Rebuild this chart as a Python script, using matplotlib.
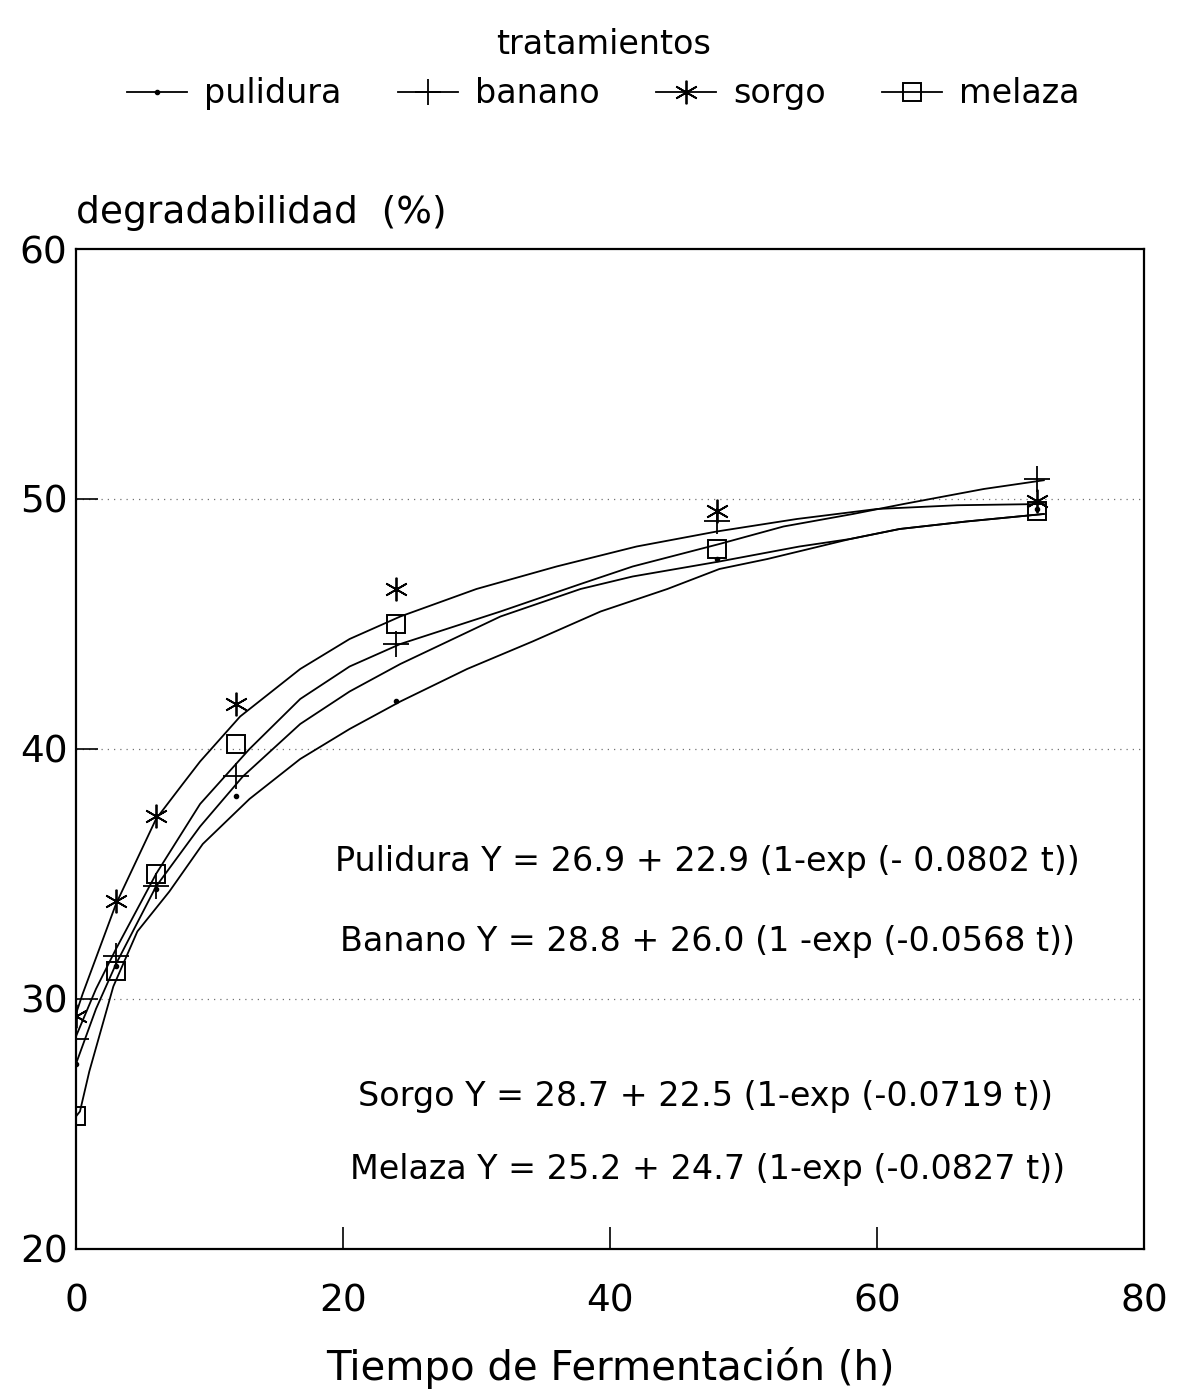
import matplotlib
matplotlib.use("Agg")
import matplotlib.pyplot as plt
from matplotlib.lines import Line2D

plt.rcParams['font.family'] = ['DejaVu Sans']

# ---------------------------------------------------------------------------
# observed degradability (%) at each fermentation time (h)
# ---------------------------------------------------------------------------
t_obs = [0, 3, 6, 12, 24, 48, 72]
pulidura = [27.4, 31.3, 34.4, 38.1, 41.9, 47.6, 49.6]
banano = [28.4, 31.7, 34.5, 38.9, 44.2, 49.1, 50.8]
sorgo = [29.3, 33.9, 37.3, 41.8, 46.4, 49.5, 49.9]
melaza = [25.3, 31.1, 35.0, 40.2, 45.0, 48.0, 49.5]

# fitted curves as drawn (top to bottom at t=24)
fit1_t = [0, 0.5, 3, 6, 8, 9.3, 12.3, 16.8, 20.5, 24.3, 30, 36, 42, 48, 54, 60, 66, 72.5]
fit1_y = [29.4, 30.2, 33.8, 37.2, 38.6, 39.5, 41.3, 43.2, 44.4, 45.3, 46.4, 47.3, 48.1, 48.7, 49.2, 49.6, 49.75, 49.8]

fit2_t = [0, 1.5, 3, 6, 9.3, 13, 16.8, 20.5, 24.3, 31.8, 37.8, 41.7, 48.2, 53, 58.2, 62, 68, 72.5]
fit2_y = [28.5, 30.4, 32.0, 35.0, 37.8, 40.0, 42.0, 43.3, 44.2, 45.5, 46.6, 47.3, 48.2, 48.9, 49.4, 49.8, 50.4, 50.75]

fit3_t = [0, 1.5, 3, 6, 9.3, 12.5, 16.8, 20.5, 24.3, 31.8, 37.8, 41.7, 48.2, 54.2, 58, 61.7, 66.7, 72.5]
fit3_y = [27.4, 29.6, 31.4, 34.5, 36.9, 38.9, 41.0, 42.3, 43.4, 45.3, 46.4, 46.9, 47.5, 48.1, 48.4, 48.8, 49.1, 49.4]

fit4_t = [0, 0.3, 1, 2.8, 4.6, 7, 9.5, 13, 16.8, 20.5, 24.3, 29.3, 34.2, 39.3, 44.3, 48.2, 51.8, 58, 61.7, 66.7, 72.5]
fit4_y = [25.3, 25.5, 27.1, 30.5, 32.7, 34.3, 36.2, 38.0, 39.6, 40.8, 41.9, 43.2, 44.3, 45.5, 46.4, 47.2, 47.6, 48.4, 48.8, 49.1, 49.4]

labels = ["pulidura", "banano", "sorgo", "melaza"]
equations = [
    "Pulidura Y = 26.9 + 22.9 (1-exp (- 0.0802 t))",
    "Banano Y = 28.8 + 26.0 (1 -exp (-0.0568 t))",
    "Sorgo Y = 28.7 + 22.5 (1-exp (-0.0719 t))",
    "Melaza Y = 25.2 + 24.7 (1-exp (-0.0827 t))",
]
eq_pos = [(0.591, 0.387), (0.591, 0.307), (0.589, 0.152), (0.591, 0.079)]

# marker styles: dot, plus, six-arm asterisk, open square
styles = [
    dict(marker="o", ms=3, mfc="k", mec="k"),
    dict(marker="+", ms=19, mew=1.3, mec="k"),
    dict(marker=(6, 2, 0), ms=17, mew=1.3, mec="k"),
    dict(marker="s", ms=13, mfc="none", mec="k", mew=1.4),
]

fig = plt.figure(figsize=(11.83, 13.95), dpi=100)
ax = fig.add_axes([0.0642, 0.1047, 0.9028, 0.7168])

for ft, fy in [(fit1_t, fit1_y), (fit2_t, fit2_y), (fit3_t, fit3_y), (fit4_t, fit4_y)]:
    ax.plot(ft, fy, color="k", lw=1.3)

for ys, st in zip([pulidura, banano, sorgo, melaza], styles):
    ax.plot(t_obs, ys, ls="none", **st)

ax.set_xlim(0, 80)
ax.set_ylim(20, 60)
ax.set_xticks([0, 20, 40, 60, 80])
ax.set_yticks([20, 30, 40, 50, 60])
for y in [30, 40, 50]:
    ax.axhline(y, color="0.45", ls=(0, (1, 4)), lw=0.9, zorder=0)
ax.tick_params(axis="both", direction="in", length=16, width=1.2, labelsize=27, colors="k")
ax.tick_params(axis="x", pad=25)
ax.tick_params(axis="y", pad=6)
for s in ax.spines.values():
    s.set_linewidth(1.6)

ax.text(0.0, 1.018, "degradabilidad  (%)", transform=ax.transAxes, fontsize=27,
        ha="left", va="bottom")
ax.set_xlabel("Tiempo de Fermentación (h)", fontsize=29, labelpad=20)

for txt, (x, y) in zip(equations, eq_pos):
    ax.text(x, y, txt, transform=ax.transAxes, fontsize=24, ha="center", va="center")

handles = [Line2D([], [], color="k", lw=1.3, **st) for st in styles]
leg = fig.legend(handles, labels, loc="upper center", bbox_to_anchor=(0.51, 0.997),
                 ncol=4, frameon=False, fontsize=24, title="tratamientos",
                 title_fontsize=24, handlelength=1.8, columnspacing=1.7,
                 handletextpad=0.5, borderaxespad=0.3)

fig.savefig("out.png", dpi=100)
